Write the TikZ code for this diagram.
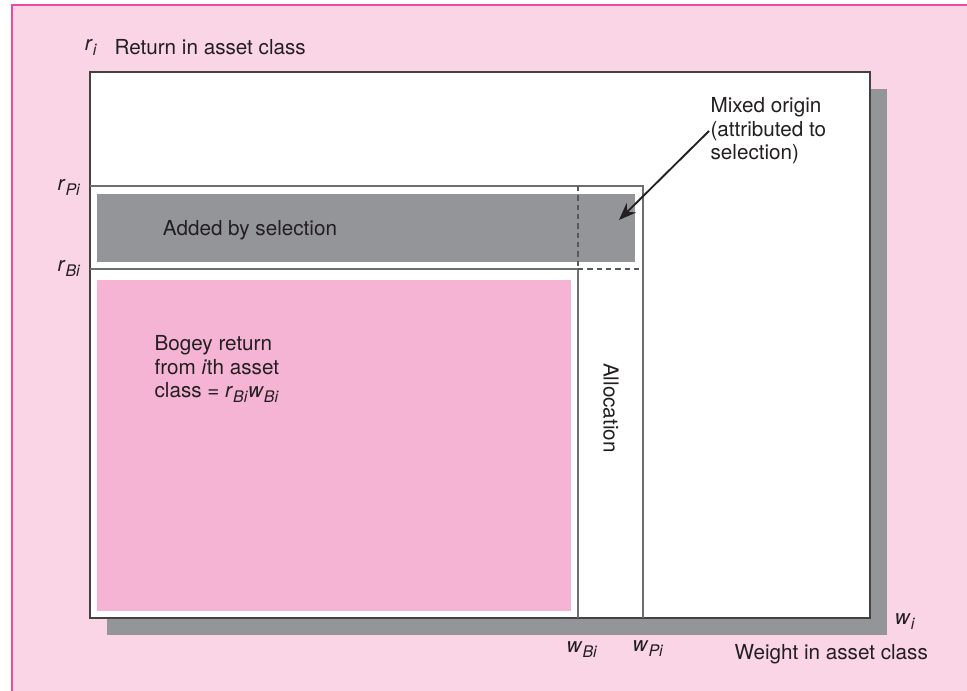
\documentclass[tikz,border=0pt]{standalone}
\usepackage{fontspec}
\setmainfont{TeX Gyre Heros}
\usepackage{tikz}
\usetikzlibrary{arrows.meta,positioning}
\definecolor{bgpink}{HTML}{F9D5E6}
\definecolor{framepink}{HTML}{EC4AA0}
\definecolor{bogeypink}{HTML}{F5B4D4}
\definecolor{selgray}{HTML}{939598}
\definecolor{edgegray}{HTML}{6D6E71}
\definecolor{inkgray}{HTML}{231F20}
\newcommand{\vsub}[2]{\textit{#1}\raisebox{-0.45ex}{\fontsize{12}{12}\selectfont\textit{#2}}}
\tikzset{edge/.style={edgegray,line width=1.1pt},
         dashedge/.style={edgegray!80!black,line width=0.9pt,dash pattern=on 4pt off 3pt},
         pointer/.style={-{Stealth[length=13pt,width=10pt]},line width=1.4pt,inkgray},
         lbl/.style={inner sep=1pt,text=inkgray,font=\fontsize{15.5}{17.6}\selectfont}}

\begin{document}
\begin{tikzpicture}[x=0.75pt,y=-0.75pt]
\useasboundingbox (0,0) rectangle (967,691);
% page
\fill[bgpink] (12,5) rectangle (967,691);
\draw[framepink,line width=1.6pt] (12,691) -- (12,5) -- (967,5);
% box with shadow
\fill[selgray] (107,89) rectangle (887,635);
\draw[fill=white,draw=inkgray!85,line width=1.2pt] (90,72) rectangle (870,618);
% portfolio and bogey areas
\fill[selgray] (97,194) rectangle (635,262);
\fill[bogeypink] (97,280) rectangle (571,611);
\draw[edge] (90,186) -- (643,186) -- (643,618);
\draw[edge] (90,269) -- (578,269) -- (578,618);
\draw[dashedge] (578,186) -- (578,269);
\draw[dashedge] (578,269) -- (643,269);
\coordinate (mixtip) at (619,220);
% labels
\node[lbl] (ri) at (91,47) {\vsub{r}{i}};
\node[lbl,anchor=west] (ytitle) at (113,47) {Return in asset class};
\node[lbl] (rpi) at (69,187) {\vsub{r}{Pi}};
\node[lbl] (rbi) at (69,268) {\vsub{r}{Bi}};
\node[lbl] (added) at (250,230) {Added by selection};
\node[lbl,anchor=west,align=left] (bogey) at (153,369)
   {Bogey return\\from \textit{i}th asset\\class = \vsub{r}{Bi}\vsub{w}{Bi}};
\node[lbl,rotate=-90] (alloc) at (611,408) {Allocation};
\node[lbl,anchor=west,align=left] (mixed) at (709,131)
   {Mixed origin\\(attributed to\\selection)};
\draw[pointer] (mixed.west) -- (mixtip);
\node[lbl] (wbi) at (582,650) {\vsub{w}{Bi}};
\node[lbl] (wpi) at (648,649) {\vsub{w}{Pi}};
\node[lbl] (wi) at (905,622) {\vsub{w}{i}};
\node[lbl,anchor=west] (xtitle) at (733,654) {Weight in asset class};
\end{tikzpicture}
\end{document}
